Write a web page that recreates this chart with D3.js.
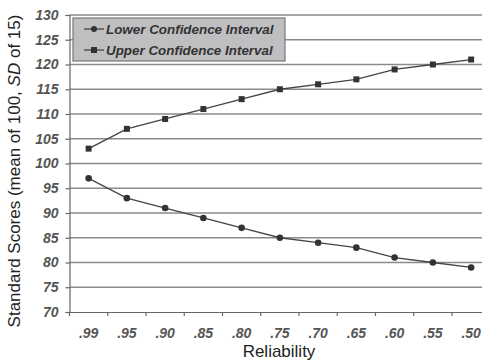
<!DOCTYPE html>
<html><head><meta charset="utf-8">
<script src="https://cdn.jsdelivr.net/npm/d3@7"></script>
<style>body{margin:0;background:#fff}svg{display:block;font-family:"Liberation Sans",Arial,sans-serif}</style>
</head><body>
<script>
const categories = [".99", ".95", ".90", ".85", ".80", ".75", ".70", ".65", ".60", ".55", ".50"];
const lowerCI = [97, 93, 91, 89, 87, 85, 84, 83, 81, 80, 79];
const upperCI = [103, 107, 109, 111, 113, 115, 116, 117, 119, 120, 121];
const yTicks = [70, 75, 80, 85, 90, 95, 100, 105, 110, 115, 120, 125, 130];
const seriesNames = ["Lower Confidence Interval", "Upper Confidence Interval"];

const W = 482, H = 362;
const svg = d3.select("body").append("svg").attr("width", W).attr("height", H);

const x = d3.scaleBand().domain(categories).range([69.5, 69.5 + 11 * 38.25]).padding(0);
const y = d3.scaleLinear().domain([70, 130]).range([312, 15]);

// gridlines
svg.append("g").selectAll("line").data(yTicks.filter(d => d > 70)).join("line")
  .attr("x1", 69.5).attr("x2", W).attr("y1", d => y(d)).attr("y2", d => y(d))
  .attr("stroke", "#8a8a8a").attr("stroke-width", 1.5);

// y axis
const yAx = svg.append("g").attr("transform", "translate(69.5,0)")
  .call(d3.axisLeft(y).tickValues(yTicks).tickSize(4).tickPadding(7));
yAx.select(".domain").attr("stroke", "#666").attr("stroke-width", 1.2);
yAx.selectAll(".tick line").attr("stroke", "#666").attr("stroke-width", 1.2);
yAx.selectAll("text").attr("font-size", 14).attr("font-weight", "bold").attr("font-style", "italic")
  .attr("fill", "#555").attr("font-family", "Liberation Sans, Arial, sans-serif");

// x axis
const xAx = svg.append("g").attr("transform", "translate(0,312)")
  .call(d3.axisBottom(x).tickSize(0).tickPadding(16));
xAx.select(".domain").attr("stroke", "#666").attr("stroke-width", 1.2);
xAx.selectAll("text").attr("font-size", 14).attr("font-weight", "bold").attr("font-style", "italic")
  .attr("fill", "#555").attr("font-family", "Liberation Sans, Arial, sans-serif");
// boundary tick marks between categories
svg.append("g").selectAll("line").data(categories).join("line")
  .attr("x1", d => x(d)).attr("x2", d => x(d)).attr("y1", 312).attr("y2", 316)
  .attr("stroke", "#666").attr("stroke-width", 1.2);

const cx = d => x(d) + x.bandwidth() / 2;
const line = d3.line().x((d, i) => cx(categories[i])).y(d => y(d));

[[lowerCI, "circle"], [upperCI, "square"]].forEach(([vals, shape]) => {
  svg.append("path").datum(vals).attr("d", line).attr("fill", "none")
    .attr("stroke", "#444").attr("stroke-width", 1.3);
  const g = svg.append("g");
  if (shape === "circle") {
    g.selectAll("circle").data(vals).join("circle")
      .attr("cx", (d, i) => cx(categories[i])).attr("cy", d => y(d)).attr("r", 3.3).attr("fill", "#333");
  } else {
    g.selectAll("rect").data(vals).join("rect")
      .attr("x", (d, i) => cx(categories[i]) - 3).attr("y", d => y(d) - 3)
      .attr("width", 6).attr("height", 6).attr("fill", "#333");
  }
});

// legend
const lg = svg.append("g");
lg.append("rect").attr("x", 73).attr("y", 18).attr("width", 212).attr("height", 43)
  .attr("fill", "#bfbfc1").attr("stroke", "#777").attr("stroke-width", 1.2);
seriesNames.forEach((name, i) => {
  const yy = 29 + i * 21;
  lg.append("line").attr("x1", 84).attr("x2", 104).attr("y1", yy).attr("y2", yy)
    .attr("stroke", "#444").attr("stroke-width", 1.3);
  if (i === 0) lg.append("circle").attr("cx", 94).attr("cy", yy).attr("r", 3).attr("fill", "#333");
  else lg.append("rect").attr("x", 91).attr("y", yy - 3).attr("width", 6).attr("height", 6).attr("fill", "#333");
  lg.append("text").attr("x", 106).attr("y", yy + 5).text(name)
    .attr("font-size", 13.4).attr("font-weight", "bold").attr("font-style", "italic").attr("fill", "#333");
});

// axis titles
const yt = svg.append("text").attr("transform", "translate(20,171) rotate(-90)")
  .attr("text-anchor", "middle").attr("font-size", 17).attr("fill", "#222");
yt.append("tspan").text("Standard Scores (mean of 100, ");
yt.append("tspan").attr("font-style", "italic").text("SD");
yt.append("tspan").text(" of 15)");

svg.append("text").attr("x", 279).attr("y", 357).attr("text-anchor", "middle")
  .attr("font-size", 17).attr("fill", "#222").text("Reliability");
</script>
</body></html>
